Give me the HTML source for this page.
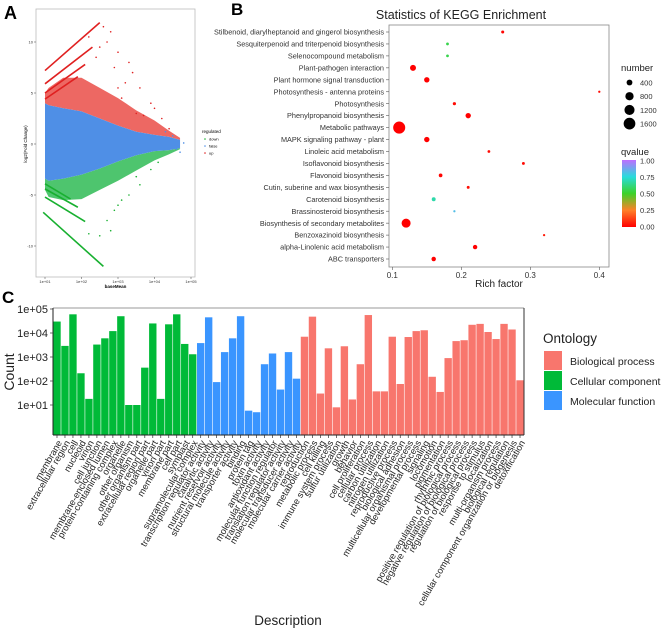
<!DOCTYPE html>
<html><head><meta charset="utf-8"><style>
html,body{margin:0;padding:0;background:#fff;}
svg{display:block;font-family:"Liberation Sans",sans-serif;}
</style></head><body>
<svg id="fig" width="662" height="628" viewBox="0 0 662 628">
<text x="4" y="19" font-size="18" font-weight="bold">A</text>
<text x="231" y="15" font-size="17" font-weight="bold">B</text>
<text x="2" y="303" font-size="17" font-weight="bold">C</text>
<g id="pa"></g>
<g id="pb"></g>
<g id="pc"></g>
</svg>
<script>
const NS="http://www.w3.org/2000/svg";
function mk(parent,tag,attrs,text){const e=document.createElementNS(NS,tag);for(const k in attrs)e.setAttribute(k,attrs[k]);if(text!==undefined)e.textContent=text;parent.appendChild(e);return e;}

/* ---------- Panel A data ---------- */
const aXTicks=[1,2,3,4,5];
const aXTickLabels=["1e+01","1e+02","1e+03","1e+04","1e+05"];
const aYTicks=[10,5,0,-5,-10];
const aEnvLog=[1,1.1,1.5,2,2.5,3,3.5,4,4.4,4.7];
const aBlueUp=[4,3.8,3.5,3.2,2.5,1.8,1.2,0.9,0.7,0.4];
const aBlueLow=[-3.4,-3.6,-3.4,-3,-2.4,-1.7,-1.1,-0.7,-0.6,-0.4];
const aRedUp=[5,5.5,6.5,6.5,5.5,4.5,3.3,2.3,1.3,0.6];
const aGreenLow=[-4.5,-5.2,-5.5,-5.4,-4.5,-3.6,-2.6,-1.6,-1,-0.5];
const aRedLines=[[1,7.2,2.5,11.9],[1,5.9,2.3,9.5],[1,5.0,2.1,7.8],[1,4.4,1.9,6.6]];
const aGreenLines=[[0.95,-6.7,2.6,-12],[1,-5.2,2.1,-7.6],[1,-4.4,1.9,-6.2],[1,-3.9,1.7,-5.4]];
const aRedDotsX=[2.6,2.8,3.0,2.9,3.2,2.4,3.4,3.6,3.1,2.7,3.9,3.5,4.0,4.2,3.3,2.5,3.7,3.0,4.4,2.2];
const aRedDotsY=[11.5,11,9,7.5,6,8.5,7,5.5,4.5,10,4,3,3.5,2.5,8,9.5,2.8,5.5,1.5,10.5];
const aGreenDotsX=[2.5,2.8,3.0,3.3,2.7,3.6,3.9,3.1,2.2,2.9,4.1,3.5];
const aGreenDotsY=[-9,-8.5,-6,-5,-7.5,-4,-2.5,-5.5,-8.8,-6.5,-1.8,-3.2];
const aBlueDotsX=[4.5,4.6,4.8,4.3,4.7];
const aBlueDotsY=[0.8,-0.5,0.1,1.2,-0.8];
(function(){
 const g=document.getElementById('pa');
 const L=36,R=195,T=9,B=277;
 const sx=v=>45+(v-1)*36.5, sy=v=>144-v*10.2;
 mk(g,'rect',{x:L,y:T,width:R-L,height:B-T,fill:'#fff',stroke:'#bbb','stroke-width':0.8});
 const env=(up,low)=>{let d='';aEnvLog.forEach((x,i)=>d+=(i?'L':'M')+sx(x)+','+sy(up[i]));for(let i=aEnvLog.length-1;i>=0;i--)d+='L'+sx(aEnvLog[i])+','+sy(low[i]);return d+'Z';};
 let e=mk(g,'path',{d:env(aRedUp,aBlueUp),fill:'#e8423c',opacity:0.8});
 
 e=mk(g,'path',{d:env(aBlueLow,aGreenLow),fill:'#22b64a',opacity:0.8});
 
 e=mk(g,'path',{d:env(aBlueUp,aBlueLow),fill:'#4f8fe6'});
 
 aRedLines.forEach(l=>{const s=mk(g,'line',{x1:sx(l[0]),y1:sy(l[1]),x2:sx(l[2]),y2:sy(l[3]),stroke:'#e02020','stroke-width':1.6});});
 aGreenLines.forEach(l=>{const s=mk(g,'line',{x1:sx(l[0]),y1:sy(l[1]),x2:sx(l[2]),y2:sy(l[3]),stroke:'#18b030','stroke-width':1.6});});
 const dots=(xs,ys,c,n)=>xs.forEach((x,i)=>{const d=mk(g,'circle',{cx:sx(x),cy:sy(ys[i]),r:0.8,fill:c});});
 dots(aRedDotsX,aRedDotsY,'#e02020','up-point');dots(aGreenDotsX,aGreenDotsY,'#18b030','down-point');dots(aBlueDotsX,aBlueDotsY,'#4f8fe6','no-change-point');
 aYTicks.forEach(v=>{mk(g,'line',{x1:L-2,x2:L,y1:sy(v),y2:sy(v),stroke:'#444','stroke-width':0.5});const t=mk(g,'text',{x:L-3,y:sy(v)+1.5,'font-size':4,'text-anchor':'end',fill:'#333'},v);});
 aXTicks.forEach((v,i)=>{mk(g,'line',{x1:sx(v),x2:sx(v),y1:B,y2:B+2,stroke:'#444','stroke-width':0.5});const t=mk(g,'text',{x:sx(v),y:B+6,'font-size':4,'text-anchor':'middle',fill:'#333'},aXTickLabels[i]);});
 let t=mk(g,'text',{x:(L+R)/2,y:B+11,'font-size':4.5,'text-anchor':'middle','font-weight':'bold'},'baseMean');
 t=mk(g,'text',{x:27,y:144,'font-size':4.5,'text-anchor':'middle',transform:'rotate(-90 27 144)'},'log2(Fold Change)');
 t=mk(g,'text',{x:202,y:133,'font-size':4.5},'regulated');
 [['down','#18b030'],['false','#4f8fe6'],['up','#e02020']].forEach((r,i)=>{mk(g,'circle',{cx:205,cy:139+i*7,r:0.8,fill:r[1]});const q=mk(g,'text',{x:209,y:140.5+i*7,'font-size':4},r[0]);});
})();

/* ---------- Panel B data ---------- */
const bPathways=["Stilbenoid, diarylheptanoid and gingerol biosynthesis","Sesquiterpenoid and triterpenoid biosynthesis","Selenocompound metabolism","Plant-pathogen interaction","Plant hormone signal transduction","Photosynthesis - antenna proteins","Photosynthesis","Phenylpropanoid biosynthesis","Metabolic pathways","MAPK signaling pathway - plant","Linoleic acid metabolism","Isoflavonoid biosynthesis","Flavonoid biosynthesis","Cutin, suberine and wax biosynthesis","Carotenoid biosynthesis","Brassinosteroid biosynthesis","Biosynthesis of secondary metabolites","Benzoxazinoid biosynthesis","alpha-Linolenic acid metabolism","ABC transporters"];
const bRich=[0.26,0.18,0.18,0.13,0.15,0.40,0.19,0.21,0.11,0.15,0.24,0.29,0.17,0.21,0.16,0.19,0.12,0.32,0.22,0.16];
const bNumber=[110,90,90,420,340,60,120,340,1700,340,90,100,160,100,180,60,950,60,230,230];
const bQvalue=[0.01,0.55,0.55,0.0,0.0,0.02,0.02,0.0,0.0,0.0,0.02,0.02,0.01,0.03,0.68,0.82,0.0,0.05,0.0,0.0];
const bXTicks=[0.1,0.2,0.3,0.4];
const bSizeLegend=[400,800,1200,1600];
const bQTicks=[1.00,0.75,0.50,0.25,0.00];
(function(){
 const g=document.getElementById('pb');
 const L=389,R=609,T=25,B=267;
 const sx=v=>392.3+(v-0.1)*690, sy=i=>32+i*(227/19), rr=n=>0.146*Math.sqrt(n);
 const qc=q=>{const stops=[[0,[255,0,0]],[0.25,[255,128,40]],[0.5,[60,210,40]],[0.75,[40,220,220]],[1,[190,110,255]]];for(let i=1;i<stops.length;i++){if(q<=stops[i][0]){const a=stops[i-1],b=stops[i],f=(q-a[0])/(b[0]-a[0]);return 'rgb('+a[1].map((c,k)=>Math.round(c+(b[1][k]-c)*f)).join(',')+')';}}return 'rgb(190,110,255)';};
 let t=mk(g,'text',{x:461,y:19,'font-size':12.5,'text-anchor':'middle',fill:'#222'},'Statistics of KEGG Enrichment');
 mk(g,'rect',{x:L,y:T,width:R-L,height:B-T,fill:'#fff',stroke:'#888','stroke-width':0.8});
 bPathways.forEach((p,i)=>{mk(g,'line',{x1:L-3,x2:L,y1:sy(i),y2:sy(i),stroke:'#555','stroke-width':0.6});const q=mk(g,'text',{x:L-5,y:sy(i)+2.6,'font-size':7.3,'text-anchor':'end',fill:'#333'},p);
  const c=mk(g,'circle',{cx:sx(bRich[i]),cy:sy(i),r:rr(bNumber[i]),fill:qc(bQvalue[i])});});
 bXTicks.forEach(v=>{mk(g,'line',{x1:sx(v),x2:sx(v),y1:B,y2:B+3,stroke:'#555','stroke-width':0.6});const q=mk(g,'text',{x:sx(v),y:B+11,'font-size':8,'text-anchor':'middle',fill:'#333'},v);});
 t=mk(g,'text',{x:499,y:287,'font-size':10,'text-anchor':'middle',fill:'#222'},'Rich factor');
 t=mk(g,'text',{x:621,y:71,'font-size':9.5,fill:'#222'},'number');
 bSizeLegend.forEach((n,i)=>{mk(g,'circle',{cx:629.5,cy:82.5+i*13.7,r:rr(n),fill:'#000'});const q=mk(g,'text',{x:640,y:85.5+i*13.7,'font-size':7.5,fill:'#333'},n);});
 t=mk(g,'text',{x:621,y:155,'font-size':9.5,fill:'#222'},'qvalue');
 const defs=mk(g,'defs',{});const lg=mk(defs,'linearGradient',{id:'qg',x1:0,y1:1,x2:0,y2:0});
 [0,0.25,0.5,0.75,1].forEach(s=>mk(lg,'stop',{offset:s,'stop-color':qc(s)}));
 t=mk(g,'rect',{x:622,y:160,width:14,height:67,fill:'url(#qg)'});
 bQTicks.forEach(v=>{const y=161+(1-v)*66;const q=mk(g,'text',{x:640,y:y+2.5,'font-size':7.5,fill:'#333'},v.toFixed(2));});
})();

/* ---------- Panel C data ---------- */
const cTerms=["membrane","extracellular region","cell","nucleoid","virion","cell junction","membrane-enclosed lumen","protein-containing complex","organelle","other organism","other organism part","extracellular region part","organelle part","virion part","membrane part","cell part","symplast","supramolecular complex",
"transcription regulator activity","catalytic activity","nutrient reservoir activity","structural molecule activity","transporter activity","binding","protein tag","toxin activity","antioxidant activity","molecular function regulator","translation regulator activity","molecular transducer activity","molecular carrier activity",
"reproduction","metabolic process","cell killing","immune system process","sulfur utilization","growth","behavior","cell proliferation","cellular process","carbon utilization","nitrogen utilization","reproductive process","biological adhesion","multicellular organismal process","developmental process","signaling","locomotion","pigmentation","rhythmic process","positive regulation of biological process","negative regulation of biological process","regulation of biological process","response to stimulus","localization","multi-organism process","biological regulation","cellular component organization or biogenesis","detoxification"];
const cCounts=[30000,2900,60000,210,18,3300,6000,12000,50000,10,10,360,25000,18,23000,60000,3500,1300,
3800,45000,90,1600,6000,50000,5.8,5,500,1400,44,1600,125,
7000,48000,30,2300,8,2800,17,500,56000,37,37,7000,75,6800,12000,13000,150,35,900,4600,5000,22000,24000,11000,5600,24000,14000,107];
const cOntology=Array(18).fill("Cellular component").concat(Array(13).fill("Molecular function"),Array(28).fill("Biological process"));
const cYTicks=[1e5,1e4,1e3,1e2,1e1];
const cYTickLabels=["1e+05","1e+04","1e+03","1e+02","1e+01"];
const cLegend=["Biological process","Cellular component","Molecular function"];
(function(){
 const g=document.getElementById('pc');
 const L=53,R=524,T=308,B=435;
 const col={"Biological process":"#f8766d","Cellular component":"#00ba38","Molecular function":"#3a95ff"};
 const n=cTerms.length,bw=(R-L)/n;
 const sy=v=>405-(Math.log10(v)-1)*24;
 cTerms.forEach((term,i)=>{const x=L+i*bw,y=sy(cCounts[i]);
  const b=mk(g,'rect',{x:x+0.3,y:y,width:bw-0.6,height:B-y,fill:col[cOntology[i]]});
  const cx=x+bw/2;mk(g,'line',{x1:cx,x2:cx,y1:B,y2:B+3,stroke:'#333','stroke-width':0.7});
  const t=mk(g,'text',{transform:'translate('+(cx+2.5)+','+(B+6)+') rotate(-60)','font-size':9.3,'text-anchor':'end',dy:'0.35em',fill:'#222'},term);});
 mk(g,'line',{x1:L,x2:R,y1:T,y2:T,stroke:'#999','stroke-width':1});
 mk(g,'line',{x1:R,x2:R,y1:T,y2:B,stroke:'#333','stroke-width':1});
 mk(g,'line',{x1:L,x2:R,y1:B,y2:B,stroke:'#222','stroke-width':1});
 mk(g,'line',{x1:L,x2:L,y1:T,y2:B,stroke:'#222','stroke-width':1});
 cYTicks.forEach((v,i)=>{mk(g,'line',{x1:L-3,x2:L,y1:sy(v),y2:sy(v),stroke:'#333','stroke-width':0.7});const t=mk(g,'text',{x:L-5,y:sy(v)+4,'font-size':11,'text-anchor':'end',fill:'#222'},cYTickLabels[i]);});
 let t=mk(g,'text',{x:14,y:372,'font-size':14,'text-anchor':'middle',transform:'rotate(-90 14 372)',fill:'#222'},'Count');
 t=mk(g,'text',{x:288,y:625,'font-size':13.5,'text-anchor':'middle',fill:'#222'},'Description');
 t=mk(g,'text',{x:543,y:343,'font-size':13.5,fill:'#222'},'Ontology');
 cLegend.forEach((o,i)=>{const r=mk(g,'rect',{x:544,y:351+i*20,width:18,height:19,fill:col[o]});const q=mk(g,'text',{x:570,y:365+i*20,'font-size':10.5,fill:'#222'},o);});
})();
</script>
</body></html>
